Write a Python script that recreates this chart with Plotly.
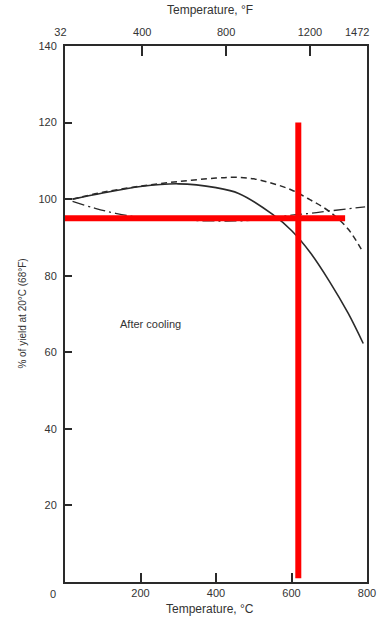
import plotly.graph_objects as go

# Data (°C, % of yield at 20°C)
solid_x = [20, 100, 200, 300, 400, 460, 550, 600, 650, 700, 750, 790]
solid_y = [100, 101.6, 103.3, 104, 103, 101.5, 96, 91.8, 86, 78.6, 70.2, 62.3]

dashed_x = [20, 100, 200, 300, 400, 450, 500, 550, 600, 650, 700, 750, 790]
dashed_y = [100, 101.8, 103.4, 104.6, 105.5, 105.7, 105.3, 104.1, 102.4, 99.8, 96.8, 92.2, 86]

dashdot_x = [20, 80, 134, 200, 300, 400, 500, 600, 650, 700, 795]
dashdot_y = [99.4, 97.6, 96.3, 95.2, 94.6, 94.3, 94.5, 95.8, 96.3, 96.9, 98]

# Red marker lines
red_h_x = [-24, 742]
red_h_y = [95, 95]
red_v_x = [618, 618]
red_v_y = [1, 120]

c_ticks = [200, 400, 600, 800]
f_ticks = [32, 400, 800, 1200, 1472]
f_labels = ["32", "400", "800", "1200", "1472"]
y_ticks = [20, 40, 60, 80, 100, 120, 140]
x_min, x_max = 0, 800

NB = "\u00a0"
# end label "1472" is drawn as an annotation so it stays inside the page
f_text = [f_labels[0] + NB * 3] + f_labels[1:-1] + [""]

ink = "#2a2a2a"
family = "Liberation Sans, Arial, sans-serif"
font = dict(family=family, size=11, color="#333")
tfont = dict(family=family, size=12, color="#333")

fig = go.Figure()
fig.add_trace(go.Scatter(x=solid_x, y=solid_y, mode="lines", line=dict(color=ink, width=1.6, shape="spline")))
fig.add_trace(go.Scatter(x=dashed_x, y=dashed_y, mode="lines", line=dict(color=ink, width=1.5, dash="6px,4px", shape="spline")))
fig.add_trace(go.Scatter(x=dashdot_x, y=dashdot_y, mode="lines", line=dict(color=ink, width=1.3, dash="12px,4px,2px,4px", shape="spline")))
fig.add_trace(go.Scatter(x=red_h_x, y=red_h_y, mode="lines", line=dict(color="#ff0000", width=6)))
fig.add_trace(go.Scatter(x=red_v_x, y=red_v_y, mode="lines", line=dict(color="#ff0000", width=6)))
# invisible trace for top axis
fig.add_trace(go.Scatter(x=[32, 1472], y=[None, None], xaxis="x2", mode="lines", showlegend=False))

fig.update_layout(
    width=378, height=618,
    margin=dict(l=65, r=11, t=46, b=36),
    paper_bgcolor="white", plot_bgcolor="white",
    showlegend=False,
    font=font,
    xaxis=dict(range=[x_min, x_max], tickvals=c_ticks, ticks="inside", ticklen=9, tickwidth=1.5, tickcolor=ink,
               showline=True, linecolor=ink, linewidth=2, showgrid=False, zeroline=False, automargin=False,
               ticklabeloverflow="allow"),
    xaxis2=dict(range=[32, 1472], overlaying="x", side="top", tickvals=f_ticks, ticktext=f_text,
                ticks="inside", ticklen=10,
                tickwidth=1.5, tickcolor=ink, showline=True, linecolor=ink, linewidth=2, showgrid=False,
                zeroline=False, automargin=False, ticklabelstandoff=4, ticklabeloverflow="allow"),
    yaxis=dict(range=[0, 140], tickvals=y_ticks, ticks="inside", ticklen=7, tickwidth=1.5, tickcolor=ink,
               showline=True, linecolor=ink, linewidth=2, mirror=True, showgrid=False, zeroline=False,
               ticklabelstandoff=4, automargin=False, ticklabeloverflow="allow"),
    annotations=[
        dict(text="% of yield at 20°C (68°F)", xref="paper", yref="paper", x=-0.142, y=0.5, xshift=-8,
             textangle=-90, showarrow=False, font=dict(family=family, size=10, color="#333")),
        dict(text="Temperature, °F", xref="paper", yref="paper", x=0.48, y=1, yanchor="middle", yshift=36,
             showarrow=False, font=tfont),
        dict(text="Temperature, °C", xref="paper", yref="paper", x=0.48, y=0, yanchor="middle", yshift=-27,
             showarrow=False, font=tfont),
        dict(text="After cooling", xref="x", yref="y", x=227, y=67.4, showarrow=False, font=font),
        dict(text="0", xref="paper", yref="paper", x=(0 - 45 - x_min) / (x_max - x_min), y=0, yanchor="top",
             yshift=-4, showarrow=False, font=font),
        dict(text=f_labels[-1], xref="x2", yref="paper", x=f_ticks[-1], y=1, xanchor="right",
             yanchor="middle", xshift=4, yshift=14, showarrow=False, font=font),
    ],
)

fig.write_html("out.html")
